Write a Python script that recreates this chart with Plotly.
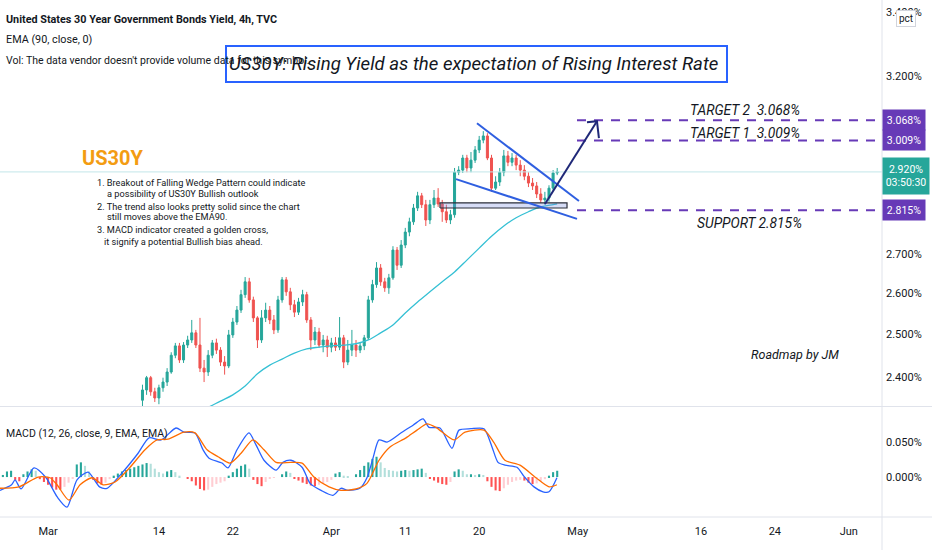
import math
import plotly.graph_objects as go

# x = trading days counted from 1 Mar 2022 (weekends skipped, as on the TradingView time scale)
tick_days = [0, 9, 15, 23, 29, 35, 43, 53, 59, 65]
tick_text = ['Mar', '14', '22', 'Apr', '11', '20', 'May', '16', '24', 'Jun']

# 4h bars, three per trading day; bar grid starts at day -4, first visible candle is bar 35
bars_per_day = 3
grid_start = -4
first_candle = 35

opens = [2.348, 2.371, 2.399, 2.367, 2.353, 2.376, 2.389, 2.412, 2.451, 2.473,
         2.440, 2.475, 2.487, 2.504, 2.475, 2.421, 2.412, 2.451, 2.480, 2.463,
         2.435, 2.426, 2.499, 2.530, 2.559, 2.597, 2.629, 2.584, 2.540, 2.487,
         2.540, 2.559, 2.535, 2.511, 2.584, 2.634, 2.604, 2.572, 2.554, 2.579,
         2.597, 2.535, 2.487, 2.506, 2.475, 2.487, 2.470, 2.480, 2.470, 2.492,
         2.435, 2.463, 2.475, 2.463, 2.473, 2.492, 2.584, 2.622, 2.664, 2.629,
         2.614, 2.639, 2.710, 2.671, 2.723, 2.757, 2.784, 2.821, 2.854, 2.830,
         2.789, 2.830, 2.848, 2.832, 2.811, 2.789, 2.803, 2.919, 2.925, 2.959,
         2.931, 2.953, 2.982, 3.010, 3.022, 2.959, 2.875, 2.892, 2.919, 2.965,
         2.947, 2.959, 2.939, 2.925, 2.908, 2.889, 2.881, 2.859, 2.843, 2.848,
         2.875, 2.917]
highs = [2.383, 2.403, 2.403, 2.376, 2.383, 2.399, 2.421, 2.458, 2.480, 2.480,
         2.482, 2.497, 2.535, 2.511, 2.540, 2.440, 2.463, 2.487, 2.490, 2.470,
         2.449, 2.511, 2.540, 2.569, 2.609, 2.641, 2.639, 2.592, 2.544, 2.559,
         2.577, 2.569, 2.547, 2.594, 2.641, 2.641, 2.614, 2.584, 2.589, 2.609,
         2.604, 2.542, 2.518, 2.516, 2.499, 2.497, 2.492, 2.494, 2.542, 2.499,
         2.487, 2.511, 2.487, 2.482, 2.499, 2.594, 2.634, 2.679, 2.674, 2.639,
         2.649, 2.720, 2.718, 2.736, 2.768, 2.795, 2.832, 2.865, 2.862, 2.843,
         2.843, 2.870, 2.875, 2.843, 2.830, 2.816, 2.931, 2.936, 2.968, 2.968,
         2.976, 2.993, 3.022, 3.036, 3.030, 2.968, 2.908, 2.931, 2.982, 2.979,
         2.973, 2.968, 2.953, 2.939, 2.919, 2.903, 2.892, 2.875, 2.865, 2.883,
         2.925, 2.931]
lows = [2.332, 2.360, 2.358, 2.344, 2.339, 2.367, 2.380, 2.408, 2.444, 2.433,
        2.433, 2.468, 2.480, 2.468, 2.412, 2.389, 2.403, 2.444, 2.454, 2.426,
        2.406, 2.421, 2.492, 2.523, 2.552, 2.589, 2.577, 2.530, 2.468, 2.480,
        2.530, 2.525, 2.501, 2.504, 2.577, 2.594, 2.559, 2.542, 2.547, 2.569,
        2.528, 2.463, 2.475, 2.468, 2.458, 2.447, 2.458, 2.461, 2.463, 2.421,
        2.428, 2.449, 2.447, 2.456, 2.463, 2.487, 2.577, 2.614, 2.619, 2.604,
        2.599, 2.634, 2.659, 2.664, 2.715, 2.746, 2.776, 2.813, 2.821, 2.773,
        2.778, 2.821, 2.824, 2.784, 2.781, 2.778, 2.795, 2.911, 2.917, 2.919,
        2.919, 2.945, 2.973, 3.001, 2.953, 2.865, 2.870, 2.881, 2.908, 2.936,
        2.936, 2.925, 2.908, 2.897, 2.878, 2.870, 2.848, 2.835, 2.830, 2.838,
        2.867, 2.911]
closes = [2.371, 2.399, 2.367, 2.353, 2.376, 2.389, 2.412, 2.451, 2.473, 2.440,
          2.475, 2.487, 2.504, 2.475, 2.421, 2.412, 2.451, 2.480, 2.463, 2.435,
          2.426, 2.499, 2.530, 2.559, 2.597, 2.629, 2.584, 2.540, 2.487, 2.540,
          2.559, 2.535, 2.511, 2.584, 2.634, 2.604, 2.572, 2.554, 2.579, 2.597,
          2.535, 2.487, 2.506, 2.475, 2.487, 2.470, 2.480, 2.470, 2.492, 2.435,
          2.463, 2.475, 2.463, 2.473, 2.492, 2.584, 2.622, 2.664, 2.629, 2.614,
          2.639, 2.710, 2.671, 2.723, 2.757, 2.784, 2.821, 2.854, 2.830, 2.789,
          2.830, 2.848, 2.832, 2.811, 2.789, 2.803, 2.919, 2.925, 2.959, 2.931,
          2.953, 2.982, 3.010, 3.022, 2.959, 2.875, 2.892, 2.919, 2.965, 2.947,
          2.959, 2.939, 2.925, 2.908, 2.889, 2.881, 2.859, 2.843, 2.848, 2.875,
          2.917, 2.920]

ema_days = [12, 13, 14, 15, 16, 17, 18, 19, 20, 21, 22, 23, 24, 25, 26, 27,
            28, 29, 30, 31, 32, 33, 34, 35, 36, 37, 38, 39, 40, 41, 41.33]
ema90 = [2.319, 2.332, 2.346, 2.360, 2.380, 2.408, 2.428, 2.442, 2.456, 2.466,
         2.470, 2.473, 2.475, 2.478, 2.487, 2.504, 2.523, 2.552, 2.579, 2.604,
         2.629, 2.654, 2.684, 2.715, 2.746, 2.773, 2.795, 2.811, 2.824, 2.830, 2.832]

macd_days = [-3.90, -2.96, -2.68, -2.19, -1.14, -0.16, 0.73, 1.54, 2.35, 3.25,
             4.18, 4.79, 6.01, 7.31, 8.20, 9.17, 10.39, 11.04, 11.93, 12.58,
             13.07, 14.12, 14.61, 15.34, 16.31, 16.88, 17.53, 18.51, 19.07, 19.72,
             20.62, 21.27, 22.16, 23.13, 23.78, 24.35, 25.32, 25.89, 26.38, 26.87,
             27.52, 28.73, 29.63, 30.44, 30.93, 31.82, 32.79, 33.36, 34.33, 35.39,
             36.04, 36.53, 37.09, 38.07, 38.64, 39.45, 40.18, 40.67, 41.31]
macd_line = [-0.019, -0.011, -0.004, -0.017, 0.013, -0.001, -0.028, -0.043, -0.004, 0.007,
             -0.014, -0.016, 0.006, 0.034, 0.056, 0.053, 0.070, 0.064, 0.063, 0.039,
             0.027, 0.020, 0.013, 0.039, 0.063, 0.046, 0.024, 0.010, 0.021, 0.024,
             0.014, -0.009, -0.019, -0.026, -0.016, -0.019, -0.016, -0.001, 0.027, 0.053,
             0.050, 0.064, 0.074, 0.083, 0.071, 0.070, 0.041, 0.067, 0.069, 0.069,
             0.043, 0.021, 0.017, 0.014, 0.001, -0.014, -0.021, -0.021, -0.001]
signal_days = [-3.90, -2.35, -0.81, 0.16, 0.73, 1.70, 2.60, 3.57, 4.46, 5.44,
               6.66, 7.87, 8.85, 9.74, 11.04, 11.93, 12.91, 13.80, 14.77, 15.67,
               16.64, 17.53, 18.51, 19.72, 20.62, 21.59, 22.81, 23.78, 25.00, 25.89,
               26.87, 27.76, 29.06, 29.95, 30.76, 31.49, 32.95, 33.85, 35.39, 36.20,
               37.09, 38.31, 39.61, 40.67, 41.31]
signal_line = [-0.016, -0.014, 0.000, -0.001, -0.011, -0.033, -0.011, -0.001, -0.011, -0.007,
               0.014, 0.039, 0.053, 0.054, 0.064, 0.063, 0.039, 0.029, 0.020, 0.034,
               0.053, 0.039, 0.021, 0.021, 0.020, 0.000, -0.014, -0.019, -0.017, -0.009,
               0.024, 0.043, 0.056, 0.067, 0.076, 0.071, 0.053, 0.064, 0.067, 0.049,
               0.024, 0.017, -0.001, -0.014, -0.011]
macd_hist = [-0.003, 0.003, 0.008, 0.009, -0.004, -0.006, 0.004, 0.008, 0.011, 0.009,
             -0.003, -0.007, -0.011, -0.015, -0.018, -0.018, -0.014, -0.008, -0.002,
             0.018, 0.021, 0.016, 0.008, -0.004, -0.009, -0.011, -0.008, -0.003,
             0.002, 0.005, 0.008, 0.010, 0.012, 0.014, 0.016, 0.018, 0.020, 0.019, 0.012, 0.007,
             0.005, 0.008, 0.010, 0.007, 0.002, 0.000, -0.002,
             -0.006, -0.012, -0.017, -0.019, -0.018, -0.014, -0.010, -0.008, -0.006,
             0.002, 0.007, 0.012, 0.016, 0.018, 0.012, -0.004, -0.010, -0.013, -0.007,
             -0.002, -0.001, 0.000, 0.004, 0.008, 0.006,
             -0.002, -0.005, -0.008, -0.010, -0.012, -0.013, -0.011, -0.009, -0.007, -0.004,
             0.005, 0.007, 0.002, 0.001, 0.000, 0.004, 0.010, 0.016, 0.021, 0.026, 0.029, 0.021,
             0.013, 0.010, 0.009, 0.008, 0.009, 0.010, 0.009, 0.010, 0.011, 0.012, 0.006,
             -0.002, -0.005, -0.008, -0.010, -0.011, -0.007, 0.008, 0.011, 0.009,
             0.004, 0.004, 0.003, 0.004, 0.003,
             -0.006, -0.014, -0.019, -0.020, -0.016, -0.011, -0.007, -0.005, -0.004, -0.005,
             -0.008, -0.010, -0.009, -0.006, -0.003, 0.002, 0.007, 0.009]

# drawings
target2 = 3.068
target1 = 3.009
support = 2.815
level_start_day = 42.94
wedge_upper_days = [34.82, 43.10]
wedge_upper = [3.059, 2.840]
wedge_lower_days = [33.12, 42.94]
wedge_lower = [2.900, 2.792]
zone_days = [31.82, 42.13]
zone = [2.821, 2.835]
arrow_days = [40.34, 44.56]
arrow_vals = [2.832, 3.065]
arrow_head_days = [43.75, 44.56, 44.72]
arrow_head_vals = [3.062, 3.065, 3.016]

# 2.9 and 3.0 sit fully under the price labels on the original, so they are left out
y_ticks = [2.4, 2.5, 2.6, 2.7, 2.8, 3.2, 3.4]
x_range = [-3.9, 67.7]
y_range = [2.335, 3.441]
macd_range = [-0.057, 0.1]

FONT = "Roboto, Liberation Sans, sans-serif"
TXT = '#131722'
W, H = 882, 517  # plot area in px


def px(x):
    return x / W


def py(y):
    return 1 - y / H


candle_days = [grid_start + (first_candle + j) / bars_per_day for j in range(len(closes))]
hist_days = [grid_start + k / bars_per_day for k in range(len(macd_hist))]

hist_colors = []
prev = 0
for v in macd_hist:
    if v >= 0:
        hist_colors.append('#26a69a' if v >= prev else '#b2dfdb')
    else:
        hist_colors.append('#ff5252' if v <= prev else '#ffcdd2')
    prev = v

fig = go.Figure()

fig.add_trace(go.Candlestick(
    x=candle_days, open=opens, high=highs, low=lows, close=closes,
    increasing=dict(line=dict(color='#26a69a', width=1), fillcolor='#26a69a'),
    decreasing=dict(line=dict(color='#ef5350', width=1), fillcolor='#ef5350'),
    whiskerwidth=0, xaxis='x', yaxis='y', hoverinfo='skip'))

fig.add_trace(go.Scatter(x=ema_days, y=ema90, mode='lines', line_shape='spline',
                         line=dict(color='#35c0d4', width=1.3), xaxis='x', yaxis='y'))

# last price line
fig.add_trace(go.Scatter(x=x_range, y=[closes[-1], closes[-1]], mode='lines',
                         line=dict(color='#c3e6ea', width=1), xaxis='x', yaxis='y'))

# target / support levels
for lvl in [target2, target1, support]:
    fig.add_trace(go.Scatter(x=[level_start_day, x_range[1]], y=[lvl, lvl], mode='lines',
                             line=dict(color='#673ab7', width=2, dash='9px,8px'),
                             xaxis='x', yaxis='y'))

# support zone
fig.add_trace(go.Scatter(x=[zone_days[0], zone_days[1], zone_days[1], zone_days[0], zone_days[0]],
                         y=[zone[0], zone[0], zone[1], zone[1], zone[0]], mode='lines',
                         fill='toself', fillcolor='rgba(120,140,225,0.30)',
                         line=dict(color='#2a2e39', width=1.2), xaxis='x', yaxis='y'))

# falling wedge
fig.add_trace(go.Scatter(x=wedge_upper_days, y=wedge_upper, mode='lines',
                         line=dict(color='#2f5fe0', width=2), xaxis='x', yaxis='y'))
fig.add_trace(go.Scatter(x=wedge_lower_days, y=wedge_lower, mode='lines',
                         line=dict(color='#2f5fe0', width=2), xaxis='x', yaxis='y'))

# arrow
fig.add_trace(go.Scatter(x=arrow_days, y=arrow_vals, mode='lines',
                         line=dict(color='#1f2878', width=2), xaxis='x', yaxis='y'))
fig.add_trace(go.Scatter(x=arrow_head_days, y=arrow_head_vals, mode='lines',
                         line=dict(color='#1f2878', width=2), xaxis='x', yaxis='y'))

# MACD pane
fig.add_trace(go.Bar(x=hist_days, y=macd_hist, marker=dict(color=hist_colors, line=dict(width=0)),
                     width=0.17, xaxis='x2', yaxis='y2'))
fig.add_trace(go.Scatter(x=macd_days, y=macd_line, mode='lines', line_shape='spline',
                         line=dict(color='#2962ff', width=1.3, smoothing=0.7), xaxis='x2', yaxis='y2'))
fig.add_trace(go.Scatter(x=signal_days, y=signal_line, mode='lines', line_shape='spline',
                         line=dict(color='#ff6d00', width=1.3, smoothing=0.7), xaxis='x2', yaxis='y2'))

annotations = []


def text(x, y, s, size, color=TXT, **kw):
    font = dict(family=FONT, size=size, color=color)
    font.update(kw.pop('font', {}))
    annotations.append(dict(xref='paper', yref='paper', x=px(x), y=py(y), text=s,
                            showarrow=False, xanchor='left', yanchor='middle', font=font, **kw))


text(4, 20, 'United States 30 Year Government Bonds Yield, 4h, TVC', 10.8, font=dict(weight='bold'))
text(4, 40, 'EMA (90, close, 0)', 10.8)
text(4, 60, "Vol: The data vendor doesn't provide volume data for this symbol.", 10.5)
text(227, 64, 'US30Y: Rising Yield as the expectation of Rising Interest Rate', 18.6,
     font=dict(style='italic'))
text(80, 158, 'US30Y', 20, color='#f39c12', font=dict(weight='bold'))
note_lines = [
    (95, 182, '1. Breakout of Falling Wedge Pattern could indicate'),
    (105, 193, 'a possibility of US30Y Bullish outlook'),
    (95, 206, '2. The trend also looks pretty solid since the chart'),
    (105, 217, 'still moves above the EMA90.'),
    (95, 230, '3. MACD indicator created a golden cross,'),
    (102, 241, 'it signify a potential Bullish bias ahead.'),
]
for nx, ny, s in note_lines:
    text(nx, ny, s, 9.2)
text(688, 110, 'TARGET 2&nbsp; 3.068%', 13.8, font=dict(style='italic'))
text(688, 133, 'TARGET 1&nbsp; 3.009%', 13.8, font=dict(style='italic'))
text(695, 223, 'SUPPORT 2.815%', 13.8, font=dict(style='italic'))
text(749, 354, 'Roadmap by JM', 12.5, font=dict(style='italic'))
text(4, 433, 'MACD (12, 26, close, 9, EMA, EMA)', 10.5)

# price scale labels
for lvl in [target2, target1, support]:
    annotations.append(dict(xref='paper', yref='y', x=1, y=math.log10(lvl), xanchor='left',
                            yanchor='middle', text='%.3f%%' % lvl, showarrow=False,
                            bgcolor='#673ab7', width=38, height=16, borderpad=2,
                            font=dict(family=FONT, size=10.5, color='white')))
annotations.append(dict(xref='paper', yref='y', x=1, y=math.log10(closes[-1]) - 0.0015,
                        xanchor='left', yanchor='middle',
                        text='%.3f%%<br>03:50:30' % closes[-1], showarrow=False,
                        bgcolor='#26a69a', width=42, height=32, borderpad=2,
                        font=dict(family=FONT, size=10.5, color='white')))
annotations.append(dict(xref='paper', yref='paper', x=px(906), y=py(18), xanchor='center',
                        yanchor='middle', text='pct', showarrow=False, bgcolor='white',
                        bordercolor='#d1d4dc', borderwidth=1, borderpad=2,
                        font=dict(family=FONT, size=10, color=TXT)))

shapes = [
    dict(type='rect', xref='paper', yref='paper', x0=px(226), x1=px(727), y0=py(46), y1=py(82),
         line=dict(color='#2962ff', width=2)),
    dict(type='line', xref='paper', yref='paper', x0=0, x1=px(932), y0=py(406.5), y1=py(406.5),
         line=dict(color='#e0e3eb', width=1)),
    dict(type='line', xref='paper', yref='paper', x0=0, x1=px(932), y0=0, y1=0,
         line=dict(color='#e0e3eb', width=1)),
    dict(type='line', xref='paper', yref='paper', x0=1, x1=1, y0=py(550), y1=1,
         line=dict(color='#e0e3eb', width=1)),
]

axis_font = dict(family=FONT, size=11, color=TXT)
fig.update_layout(
    width=932, height=550,
    margin=dict(l=0, r=50, t=0, b=33),
    paper_bgcolor='white', plot_bgcolor='white',
    showlegend=False, hovermode=False,
    xaxis=dict(domain=[0, 1], anchor='y', range=x_range, showticklabels=False, showgrid=False,
               zeroline=False, rangeslider=dict(visible=False), showline=False),
    yaxis=dict(domain=[1 - 406 / H, 1], anchor='x', type='log',
               range=[math.log10(y_range[0]), math.log10(y_range[1])], side='right',
               tickvals=y_ticks, ticktext=['%.3f%%' % v for v in y_ticks],
               showgrid=False, zeroline=False, ticks='', tickfont=axis_font, ticklabelstandoff=3),
    xaxis2=dict(domain=[0, 1], anchor='y2', range=x_range, tickvals=tick_days, ticktext=tick_text,
                showgrid=False, zeroline=False, ticks='', tickfont=axis_font, ticklabelstandoff=6),
    yaxis2=dict(domain=[0, 110 / H], anchor='x2', range=macd_range, side='right',
                tickvals=[0, 0.05], ticktext=['0.000%', '0.050%'], showgrid=False,
                zeroline=False, ticks='', tickfont=axis_font, ticklabelstandoff=3),
    annotations=annotations,
    shapes=shapes,
)

fig.write_html("out.html", config={'displayModeBar': False},
               post_script="document.body.style.margin='0';document.body.style.overflow='hidden';")
